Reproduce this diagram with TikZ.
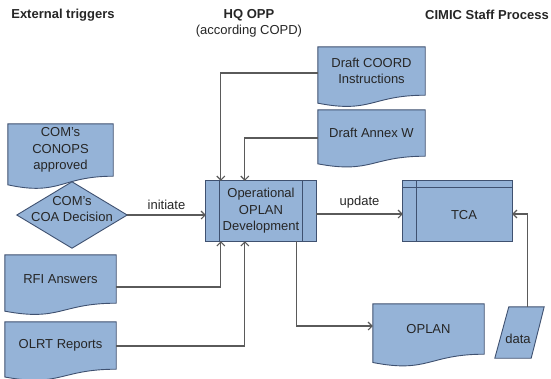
\documentclass[tikz,border=0pt]{standalone}
\usepackage{fontspec}
\setmainfont{Liberation Sans}
\usetikzlibrary{arrows.meta,backgrounds,calc}

\definecolor{boxfill}{HTML}{95B3D7}
\definecolor{boxline}{HTML}{3F5170}
\definecolor{wire}{HTML}{5A5A5A}
\definecolor{ink}{HTML}{262626}

% document symbol (flat top, wavy bottom) drawn around a named node body
\newcommand\docsymbol[1]{%
  \path let \p1=(#1.north west), \p2=(#1.south east) in
    [shapeline] (\p1) -- (\x2,\y1) -- (\p2)
    .. controls ({(\x1+\x2)/2},\y2) and ({(\x1+\x2)/2},{\y2-0.3815*(\y1-\y2)})
    .. (\x1,{\y2-0.1646*(\y1-\y2)}) -- cycle;}

\begin{document}
\begin{tikzpicture}[x=1pt,y=-1pt,
  every node/.style={font=\fontsize{13}{16.5}\selectfont, text=ink, align=center, inner sep=0pt},
  title/.style={font=\fontsize{13}{16}\selectfont\bfseries},
  body/.style 2 args={minimum width=#1pt, minimum height=#2pt},
  shapeline/.style={fill=boxfill, draw=boxline, line width=0.9pt},
  wire/.style={draw=wire, line width=1.1pt, -{Straight Barb[length=4pt,width=8pt]}},
  tag/.style={font=\fontsize{13}{16}\selectfont}]

\useasboundingbox (0,0) rectangle (551,378);

% column headings
\node[title] (h1) at (63,15) {External triggers};
\node[title] (h2) at (249,15) {HQ OPP};
\node (h2b) at (249,31) {(according COPD)};
\node[title] (h3) at (487,15) {CIMIC Staff Process};

% inputs
\node[body={107}{48}] (coord) at (371.5,71) {Draft COORD\\Instructions};
\node[body={107}{46}] (annexw) at (371.5,133) {Draft Annex W};
\node[body={105}{52}] (conops) at (60.5,150) {COM's\\CONOPS\\approved};
\node[body={110}{66}] (coa) at (72,215) {};
\node (coatext) at (72,209) {COM's\\COA Decision};
\node[body={111}{48}] (rfi) at (60.5,279) {RFI Answers};
\node[body={111}{47}] (olrt) at (60.5,345.5) {OLRT Reports};

% process and store
\node[body={110}{60}] (opd) at (261,211) {Operational\\OPLAN\\Development};
\node[body={109}{60}] (tca) at (457.5,211) {};
\node (tcatext) at (464,215) {TCA};

% outputs
\node[body={111}{50}] (oplan) at (428.5,329) {OPLAN};
\node[body={49}{51}] (data) at (519.5,332.5) {};
\node (datatext) at (518,339) {data};

% anchor points of the elbow connectors
\coordinate (coordin) at ($(opd.north west)+(15,0)$);
\coordinate (annexin) at ($(opd.north west)+(39,0)$);
\coordinate (rfiin) at ($(opd.south west)+(15,0)$);
\coordinate (olrtin) at ($(opd.south west)+(39,0)$);
\coordinate (opdout) at ($(opd.south west)+(91,0)$);
\coordinate (datain) at ($(tca.east)+(0,3)$);

\begin{scope}[on background layer]
  \docsymbol{coord}
  \docsymbol{annexw}
  \docsymbol{conops}
  \docsymbol{rfi}
  \docsymbol{olrt}
  \docsymbol{oplan}
  % decision
  \path[shapeline] (coa.north) -- (coa.east) -- (coa.south) -- (coa.west) -- cycle;
  % predefined process
  \path[shapeline] (opd.north west) rectangle (opd.south east);
  \draw[boxline, line width=0.9pt] ($(opd.north west)+(14,0)$) -- ($(opd.south west)+(14,0)$)
    ($(opd.north east)+(-14,0)$) -- ($(opd.south east)+(-14,0)$);
  % internal storage
  \path[shapeline] (tca.north west) rectangle (tca.south east);
  \draw[boxline, line width=0.9pt] ($(tca.north west)+(0,7)$) -- ($(tca.north east)+(0,7)$)
    ($(tca.north west)+(14,0)$) -- ($(tca.south west)+(14,0)$);
  % data
  \path[shapeline] ($(data.south west)+(0,0)$) -- ($(data.north west)+(14,0)$)
    -- (data.north east) -- ($(data.south east)+(-13,0)$) -- cycle;
\end{scope}

% connectors
\draw[wire] (coord.west |- 0,73) -| (coordin);
\draw[wire] (annexw.west |- 0,138) -| (annexin);
\draw[wire] (coa.east) -- (opd.west |- coa.east)
  node[tag, midway, above=5pt] (initiate) {initiate};
\draw[wire] (rfi.east |- 0,287) -| (rfiin);
\draw[wire] (olrt.east |- 0,346) -| (olrtin);
\draw[wire] (opd.east |- 0,214) -- (tca.west |- 0,214)
  node[tag, midway, above=5pt] (update) {update};
\draw[wire] (opdout) |- (oplan.west |- 0,326);
\draw[wire] ($(data.north)+(8,0)$) |- (datain);

\end{tikzpicture}
\end{document}
